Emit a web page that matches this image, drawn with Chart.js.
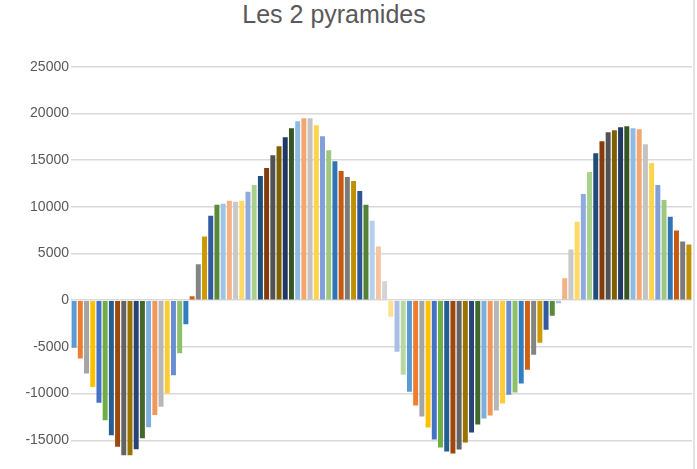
<!DOCTYPE html>
<html lang="fr">
<head>
  <meta charset="UTF-8">
  <title>Les 2 pyramides</title>
  <script src="https://cdn.jsdelivr.net/npm/chart.js"></script>
</head>
<body>

<div class="wrap">
  <div class="chart-title">Les 2 pyramides</div>
  <div class="edge"></div>
  <div class="chart-box">
    <canvas id="pyramid-chart"></canvas>
  </div>
</div>

<script>
// categories (one per bar)
const categories = [
  1, 2, 3, 4, 5, 6, 7, 8, 9, 10, 11, 12, 13, 14, 15, 16, 17, 18, 19, 20,
  21, 22, 23, 24, 25, 26, 27, 28, 29, 30, 31, 32, 33, 34, 35, 36, 37, 38, 39, 40,
  41, 42, 43, 44, 45, 46, 47, 48, 49, 50, 51, 52, 53, 54, 55, 56, 57, 58, 59, 60,
  61, 62, 63, 64, 65, 66, 67, 68, 69, 70, 71, 72, 73, 74, 75, 76, 77, 78, 79, 80,
  81, 82, 83, 84, 85, 86, 87, 88, 89, 90, 91, 92, 93, 94, 95, 96, 97, 98, 99, 100
];

// values
const values = [
  -5100, -6250, -7850, -9280, -10990, -12840, -14450, -15700, -16600, -16600,
  -15950, -14770, -13600, -12300, -11400, -10000, -8030, -5670, -2570, 430,
  3840, 6810, 9040, 10210, 10320, 10640, 10530, 10640, 11600, 12340,
  13300, 14150, 15530, 16490, 17450, 18400, 19150, 19470, 19470, 18720,
  17550, 16060, 14890, 13830, 13190, 12770, 11700, 10210, 8510, 5740,
  2020, -1780, -5520, -7970, -9790, -11280, -12460, -13630, -14910, -15770,
  -16190, -16410, -15980, -15230, -14160, -13310, -12670, -12350, -11810, -11070,
  -10110, -9890, -8930, -7440, -5840, -4560, -3170, -1670, -320, 2340,
  5430, 8400, 11380, 13720, 15740, 17020, 17980, 18190, 18510, 18620,
  18400, 18300, 16700, 14680, 12340, 10740, 8940, 7450, 6280, 5960
];

// y axis
const yMin = -20000;
const yMax = 25000;
const yStep = 5000;

// Excel "vary colors by point" cycle (54 colours)
const palette = [
  '#5B9BD5', '#ED7D31', '#A5A5A5', '#FFC000', '#4472C4', '#70AD47',
  '#255E91', '#9E480E', '#636363', '#997300', '#264478', '#43682B',
  '#7CAFDD', '#F1975A', '#B7B7B7', '#FFCD33', '#698ED0', '#8CC168',
  '#327DC2', '#D26012', '#848484', '#CC9A00', '#335AA1', '#5A8A39',
  '#9DC3E6', '#F4B183', '#C9C9C9', '#FFD966', '#8FAADC', '#A9D18E',
  '#1F4E79', '#843C0C', '#525252', '#7F6000', '#203864', '#375623',
  '#8FBBE3', '#F3A66F', '#C3C3C3', '#FFD44D', '#819FD9', '#9DC97F',
  '#2E75B6', '#C55A11', '#7B7B7B', '#BF9000', '#2F5597', '#538135',
  '#B4D0EC', '#F7C4A1', '#D4D4D4', '#FFE08B', '#A9BDE6', '#B7D8A2'
];

const barColors = values.map((v, i) => palette[i % palette.length]);

const ctx = document.getElementById('pyramid-chart').getContext('2d');
const pyramidChart = new Chart(ctx, {
  type: 'bar',
  data: {
    labels: categories,
    datasets: [{
      data: values,
      backgroundColor: barColors,
      borderWidth: 0,
      barPercentage: 0.8,
      categoryPercentage: 1
    }]
  },
  options: {
    responsive: true,
    maintainAspectRatio: false,
    animation: false,
    layout: {
      padding: { top: 66.7, right: 5, bottom: 13, left: 0 }
    },
    plugins: {
      legend: { display: false },
      title: { display: false },
      tooltip: { enabled: false }
    },
    scales: {
      x: {
        display: false
      },
      y: {
        min: yMin,
        max: yMax,
        afterFit: (scale) => { scale.width = 71; },
        border: { display: false },
        grid: {
          color: '#D9D9D9',
          lineWidth: 1.5,
          drawTicks: false
        },
        ticks: {
          stepSize: yStep,
          padding: 2,
          color: '#595959',
          font: { family: 'Liberation Sans', size: 14 },
          callback: (value) => String(value)
        }
      }
    }
  }
});
</script>

<style>
  html, body {
    margin: 0;
    padding: 0;
    background: #fff;
    overflow: hidden;
  }
  .wrap {
    position: relative;
    width: 697px;
    height: 469px;
    overflow: hidden;
  }
  .chart-box {
    position: absolute;
    left: 0;
    top: 0;
    width: 697px;
    height: 500px;
  }
  .chart-title {
    position: absolute;
    left: 0;
    top: 2px;
    width: 668px;
    text-align: center;
    font-family: 'Liberation Sans', sans-serif;
    font-size: 25px;
    line-height: 25px;
    color: #595959;
  }
  .edge {
    position: absolute;
    left: 693px;
    top: 0;
    width: 2px;
    height: 469px;
    background: #E3E3E3;
  }
</style>

</body>
</html>
